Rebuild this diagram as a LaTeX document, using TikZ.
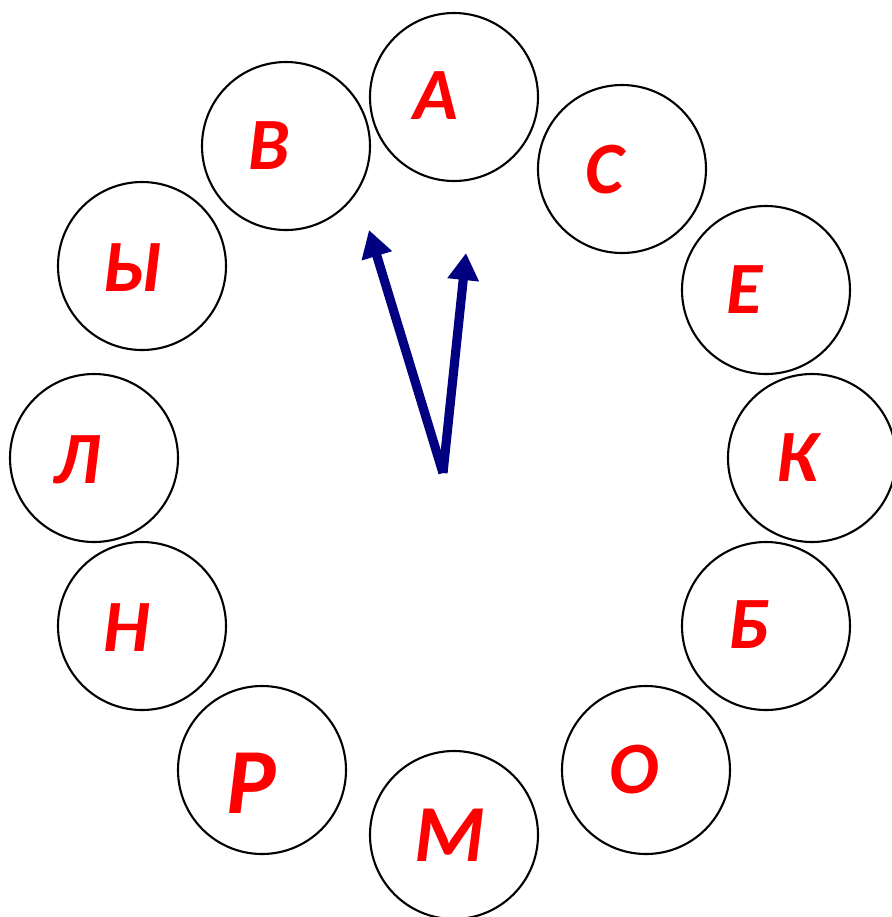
\documentclass[tikz,border=0pt]{standalone}
\usepackage{fontspec}
\setmainfont{Carlito}
\usetikzlibrary{arrows.meta}
\definecolor{handblue}{RGB}{0,0,128}
\tikzset{
  dial/.style={draw, circle, line width=0.6pt, minimum size=1.68cm, inner sep=0pt},
  letter/.style={text=red, font=\fontsize{21}{24}\selectfont\bfseries\itshape, inner sep=0pt},
  hand/.style={handblue, line width=2.6pt, -{Triangle[length=0.27cm, width=0.3cm]}}
}
\begin{document}
\begin{tikzpicture}[x=1cm, y=-1cm]
    \useasboundingbox (0, 0) rectangle (8.92, 9.17);

    % кольцо кругов
    \node[dial] (cA) at (4.54, 0.97) {};
    \node[dial] (cS) at (6.22, 1.69) {};
    \node[dial] (cE) at (7.66, 2.90) {};
    \node[dial] (cK) at (8.12, 4.58) {};
    \node[dial] (cB) at (7.66, 6.26) {};
    \node[dial] (cO) at (6.46, 7.70) {};
    \node[dial] (cM) at (4.54, 8.35) {};
    \node[dial] (cR) at (2.62, 7.70) {};
    \node[dial] (cN) at (1.42, 6.26) {};
    \node[dial] (cL) at (0.94, 4.58) {};
    \node[dial] (cY) at (1.42, 2.66) {};
    \node[dial] (cV) at (2.86, 1.46) {};

    % буквы
    \node[letter] (lA) at (4.36, 0.96) {А};
    \node[letter] (lS) at (6.05, 1.70) {С};
    \node[letter] (lE) at (7.45, 2.90) {Е};
    \node[letter] (lK) at (7.97, 4.58) {К};
    \node[letter] (lB) at (7.49, 6.25) {Б};
    \node[letter] (lO) at (6.34, 7.70) {О};
    \node[letter, font=\fontsize{23}{26}\selectfont\bfseries\itshape] (lM) at (4.50, 8.35) {М};
    \node[letter, font=\fontsize{26.5}{30}\selectfont\bfseries\itshape] (lR) at (2.51, 7.83) {Р};
    \node[letter] (lN) at (1.27, 6.28) {Н};
    \node[letter] (lL) at (0.77, 4.60) {Л};
    \node[letter] (lY) at (1.33, 2.68) {Ы};
    \node[letter] (lV) at (2.69, 1.46) {В};

    % стрелки
    \coordinate (centre) at (4.43, 4.73);
    \coordinate (tipL) at (3.69, 2.30);
    \coordinate (tipR) at (4.66, 2.53);
    \draw[hand] (centre) -- (tipL);
    \draw[hand] (centre) -- (tipR);
\end{tikzpicture}
\end{document}
